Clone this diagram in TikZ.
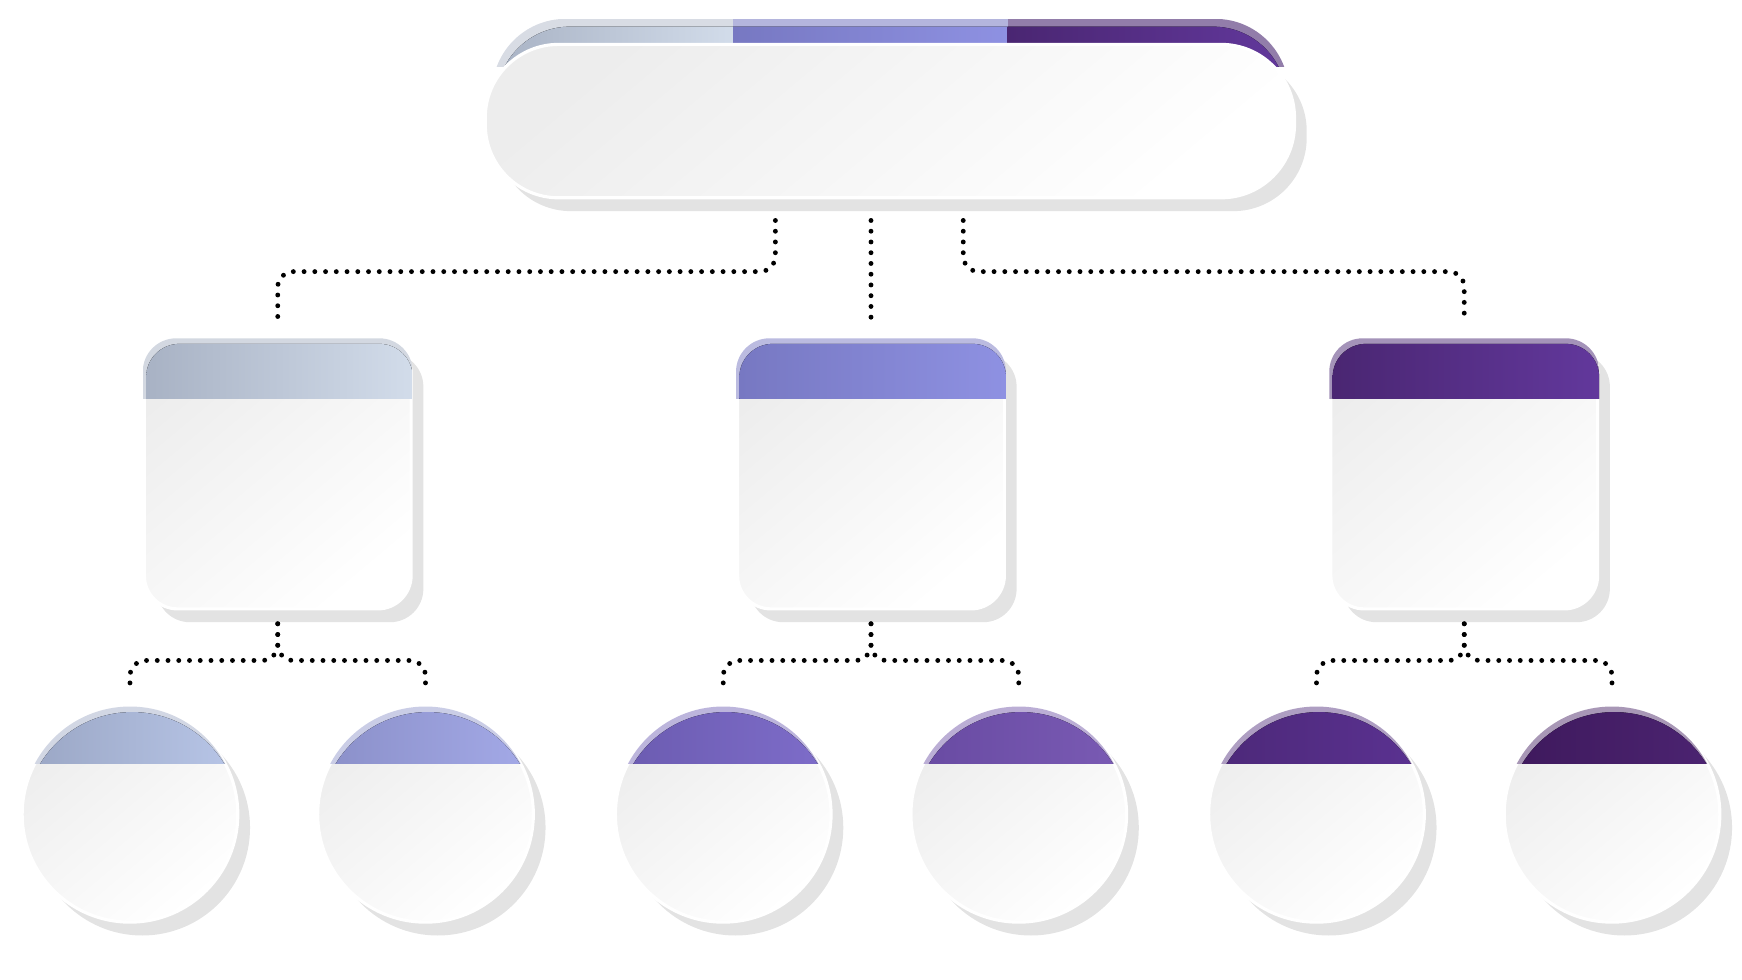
\documentclass[tikz,border=0pt]{standalone}
\usetikzlibrary{shadows}

\definecolor{slateA}{HTML}{A8B2C4}
\definecolor{slateB}{HTML}{D2DCEA}
\definecolor{irisA}{HTML}{7778C2}
\definecolor{irisB}{HTML}{8E91E2}
\definecolor{plumA}{HTML}{4A2672}
\definecolor{plumB}{HTML}{62389C}
\definecolor{capAa}{HTML}{9AA6C4}
\definecolor{capAb}{HTML}{B8C6E8}
\definecolor{capBa}{HTML}{8A8FC8}
\definecolor{capBb}{HTML}{A4AAE8}
\definecolor{capCa}{HTML}{6B5BB0}
\definecolor{capCb}{HTML}{7E6DCA}
\definecolor{capDa}{HTML}{684AA2}
\definecolor{capDb}{HTML}{7A5BB4}
\definecolor{capEa}{HTML}{4C2878}
\definecolor{capEb}{HTML}{5B3292}
\definecolor{capFa}{HTML}{3E195C}
\definecolor{capFb}{HTML}{4C2472}

\tikzset{
  body/.style={shade, top color=black!7, bottom color=white, shading angle=40,
    draw=white, line width=0.8pt, inner sep=0pt,
    drop shadow={shadow xshift=0.11cm, shadow yshift=-0.12cm, fill=black!11, opacity=1}},
  plate/.style={body, rounded corners=0.66cm, minimum width=7.28cm, minimum height=1.38cm},
  card/.style={body, rounded corners=0.3cm, minimum width=2.4cm, minimum height=2.42cm},
  bubble/.style={body, circle, minimum size=1.94cm},
  link/.style={draw, line width=1.25pt, line cap=round, dash pattern=on 0pt off 2.75pt, rounded corners=4pt}
}

\begin{document}
\begin{tikzpicture}[x=0.01cm, y=-0.01cm]
  \useasboundingbox (0,0) rectangle (1568,882);

  % coloured band behind the head
  \begin{scope}
    \clip (430,0) rectangle (1180,60);
    \clip[rounded corners=0.66cm] (443,17) rectangle (1160,157);
    \fill[slateA!45!white] (443,17) rectangle (660,60);
    \fill[irisA!55!white] (660,17) rectangle (907,60);
    \fill[plumA!60!white] (907,17) rectangle (1160,60);
    \clip[rounded corners=0.66cm] (447,24) rectangle (1158,160);
    \fill[left color=slateA, right color=slateB] (443,17) rectangle (660,60);
    \fill[left color=irisA, right color=irisB] (660,17) rectangle (907,60);
    \fill[left color=plumA, right color=plumB] (907,17) rectangle (1160,60);
  \end{scope}
  \node[plate] (head) at (801,109) {};

  % second row
  \foreach \n/\x/\ca/\cb in {A/250/slateA/slateB, B/784/irisA/irisB, C/1318/plumA/plumB} {
    \node[card] (box\n) at (\x,427) {};
    \begin{scope}
      \clip (box\n.north west) rectangle ([yshift=-0.54cm]box\n.north east);
      \clip[rounded corners=0.3cm] (box\n.north west) rectangle (box\n.south east);
      \fill[\ca!50!white] (box\n.north west) rectangle (box\n.south east);
      \fill[left color=\ca, right color=\cb, rounded corners=0.3cm]
        ([shift={(0.03cm,-0.05cm)}]box\n.north west) rectangle (box\n.south east);
    \end{scope}
  }

  % third row
  \foreach \n/\x/\ca/\cb in {1/117/capAa/capAb, 2/383/capBa/capBb, 3/651/capCa/capCb,
                             4/917/capDa/capDb, 5/1185/capEa/capEb, 6/1451/capFa/capFb} {
    \node[bubble] (leaf\n) at (\x,733) {};
    \begin{scope}
      \clip ([xshift=-1cm]leaf\n.north) rectangle ([xshift=1cm, yshift=-0.53cm]leaf\n.north);
      \clip (leaf\n.center) circle[radius=0.97cm];
      \fill[\ca!45!white] ([shift={(-1cm,1cm)}]leaf\n.center) rectangle ([shift={(1cm,-1cm)}]leaf\n.center);
      \fill[left color=\ca, right color=\cb] ([shift={(0.02cm,-0.05cm)}]leaf\n.center) circle[radius=0.97cm];
    \end{scope}
  }

  % dotted links
  \coordinate (hub) at (head.south -| boxB.north);
  \draw[link] ([xshift=-1.03cm, yshift=-0.19cm]head.south) -- ++(0,-0.46cm) -| ([yshift=0.14cm]boxA.north);
  \draw[link] ([yshift=-0.19cm]hub) -- ([yshift=0.14cm]boxB.north);
  \draw[link] ([xshift=0.66cm, yshift=-0.19cm]head.south) -- ++(0,-0.46cm) -| ([yshift=0.14cm]boxC.north);
  \foreach \b/\l/\r in {A/1/2, B/3/4, C/5/6} {
    \draw[link] ([yshift=-0.12cm]box\b.south) -- ++(0,-0.33cm) -| ([yshift=0.16cm]leaf\l.north);
    \draw[link] ([yshift=-0.12cm]box\b.south) -- ++(0,-0.33cm) -| ([yshift=0.16cm]leaf\r.north);
  }
\end{tikzpicture}
\end{document}
